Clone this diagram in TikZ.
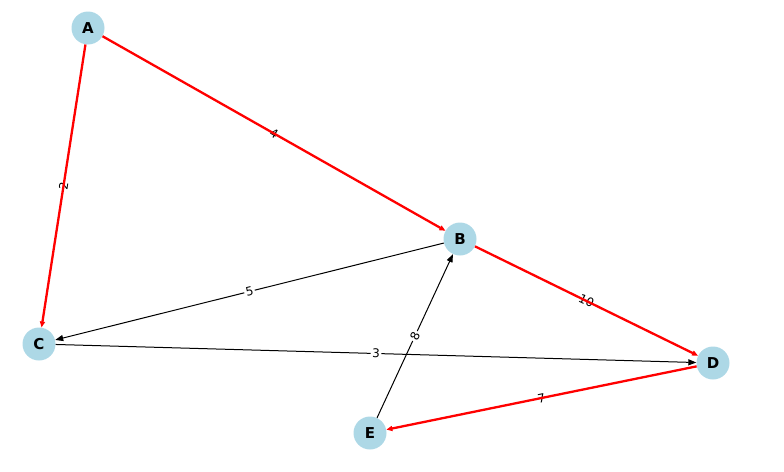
\documentclass[tikz,border=0pt]{standalone}
\usepackage{fontspec}
\setmainfont{DejaVu Sans}
\usetikzlibrary{arrows.meta}
\definecolor{nodeblue}{RGB}{173,216,230}
\begin{document}
\begin{tikzpicture}[x=1pt,y=-1pt,
  vtx/.style={circle,fill=nodeblue,minimum size=33pt,inner sep=0pt,font=\fontsize{15}{15}\selectfont\bfseries},
  edge/.style={line width=1pt,-{Triangle[length=8pt,width=6pt]}},
  hot/.style={edge,red,line width=2.3pt,-{Triangle[length=6pt,width=5pt]}},
  wt/.style={midway,sloped,fill=white,inner sep=1.5pt,font=\fontsize{12}{12}\selectfont}]
  \useasboundingbox (0,0) rectangle (784,471);
  \foreach \n/\px/\py in {A/88/28,B/460/239,C/39/344,D/713/363,E/370/433} {\node[vtx] (\n) at (\px,\py) {\n};}
  \foreach \s/\t/\w in {B/C/5,C/D/3,E/B/8} {\draw[edge] (\s) -- node[wt] {\w} (\t);}
  \foreach \s/\t/\w in {A/B/4,A/C/2,B/D/10,D/E/7} {\path (\s) -- node[wt] {\w} (\t); \draw[hot] (\s) -- (\t);}
\end{tikzpicture}
\end{document}
